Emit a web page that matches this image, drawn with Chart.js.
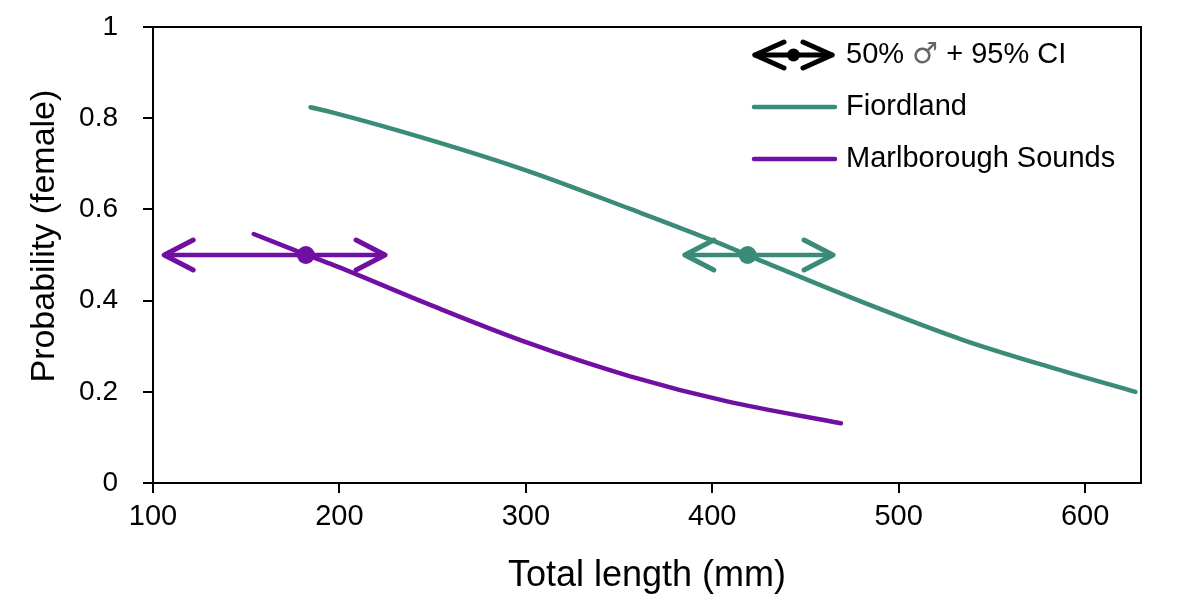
<!DOCTYPE html>
<html>
<head>
<meta charset="utf-8">
<script src="https://cdn.jsdelivr.net/npm/chart.js@4/dist/chart.umd.min.js"></script>
<style>
  body { margin: 0; background: #fff; }
</style>
</head>
<body>
<canvas id="chart" width="1200" height="599"></canvas>
<script>
// values
const fiordLen = [184.5, 195, 249, 302, 356, 400, 427, 481, 535, 588, 627];
const fiordProb = [0.824, 0.814, 0.752, 0.683, 0.601, 0.532, 0.486, 0.396, 0.313, 0.246, 0.2];
const marlLen = [154, 182, 195, 249, 302, 356, 408, 469];
const marlProb = [0.546, 0.501, 0.481, 0.39, 0.306, 0.234, 0.179, 0.131];

// 50% point with 95% CI
const fiordMid = [419, 0.5];
const fiordCI = [385.3, 464.8];
const marlMid = [182, 0.5];
const marlCI = [106, 224.5];

const xTicks = [100, 200, 300, 400, 500, 600];
const yTicks = [0, 0.2, 0.4, 0.6, 0.8, 1];

const TEAL = "#3a8c78";
const PURPLE = "#7010a2";
const FONT = "'Liberation Sans', Arial, sans-serif";

const pts = (xs, ys) => xs.map((x, i) => ({ x, y: ys[i] }));

function curve(label, xs, ys, color) {
  return {
    label,
    data: pts(xs, ys),
    showLine: true,
    borderColor: color,
    borderWidth: 4.5,
    borderCapStyle: "round",
    tension: 0.4,
    cubicInterpolationMode: "monotone",
    pointRadius: 0,
  };
}

function ciLine(ci, y, color) {
  return {
    label: "ci",
    data: ci.map((x) => ({ x, y })),
    showLine: true,
    borderColor: color,
    borderWidth: 4.5,
    pointRadius: 0,
    arrows: true,
  };
}

function midDot(mid, color) {
  return {
    label: "mid",
    data: [{ x: mid[0], y: mid[1] }],
    pointRadius: 9,
    pointBorderWidth: 0,
    pointBackgroundColor: color,
  };
}

function chevron(ctx, x, y, dir, dx, dy) {
  ctx.beginPath();
  ctx.moveTo(x - dir * dx, y - dy);
  ctx.lineTo(x, y);
  ctx.lineTo(x - dir * dx, y + dy);
  ctx.stroke();
}

// open arrow heads at the CI ends, placed on the points the scales give
const arrowHeads = {
  id: "arrowHeads",
  afterDatasetsDraw(chart) {
    const ctx = chart.ctx;
    ctx.save();
    ctx.lineWidth = 5;
    ctx.lineCap = "round";
    ctx.lineJoin = "round";
    chart.data.datasets.forEach((ds, i) => {
      if (!ds.arrows) return;
      const els = chart.getDatasetMeta(i).data;
      ctx.strokeStyle = ds.borderColor;
      chevron(ctx, els[0].x, els[0].y, -1, 29, 15);
      chevron(ctx, els[1].x, els[1].y, 1, 29, 15);
    });
    ctx.restore();
  },
};

// legend drawn inside the plot box, plus the top/right frame
const overlay = {
  id: "overlay",
  afterDraw(chart) {
    const { ctx, chartArea: a } = chart;
    ctx.save();
    ctx.strokeStyle = "#000";
    ctx.lineWidth = 2;
    ctx.beginPath();
    ctx.moveTo(a.left, a.top);
    ctx.lineTo(a.right, a.top);
    ctx.lineTo(a.right, a.bottom);
    ctx.stroke();

    const x0 = a.right - 386, x1 = a.right - 309, tx = a.right - 295;
    const rows = [a.top + 28, a.top + 80, a.top + 132];
    ctx.lineCap = "round";
    ctx.lineJoin = "round";

    // arrow symbol
    ctx.strokeStyle = "#000";
    ctx.lineWidth = 5;
    ctx.beginPath();
    ctx.moveTo(x0, rows[0]); ctx.lineTo(x1, rows[0]);
    ctx.stroke();
    chevron(ctx, x0, rows[0], -1, 29, 13);
    chevron(ctx, x1, rows[0], 1, 29, 13);
    ctx.fillStyle = "#000";
    ctx.beginPath();
    ctx.arc((x0 + x1) / 2, rows[0], 6.5, 0, Math.PI * 2);
    ctx.fill();

    [[TEAL, rows[1]], [PURPLE, rows[2]]].forEach(([c, y]) => {
      ctx.strokeStyle = c;
      ctx.lineWidth = 4.5;
      ctx.beginPath();
      ctx.moveTo(x0 - 1, y); ctx.lineTo(x1 + 3, y);
      ctx.stroke();
    });

    ctx.textBaseline = "middle";
    ctx.textAlign = "left";
    let x = tx;
    const parts = [
      ["50% ", "#000", "29px " + FONT],
      ["\u2642", "#666", "29px 'DejaVu Sans', sans-serif"],
      [" + 95% CI", "#000", "29px " + FONT],
    ];
    parts.forEach(([t, c, f]) => {
      ctx.font = f;
      ctx.fillStyle = c;
      ctx.fillText(t, x, rows[0]);
      x += ctx.measureText(t).width;
    });
    ctx.font = "29px " + FONT;
    ctx.fillStyle = "#000";
    ctx.fillText("Fiordland", tx, rows[1]);
    ctx.fillText("Marlborough Sounds", tx, rows[2]);
    ctx.restore();
  },
};

const axisGrid = {
  display: true,
  drawOnChartArea: false,
  drawTicks: true,
  tickLength: 10,
  color: "#000",
  lineWidth: 2,
};

new Chart(document.getElementById("chart"), {
  type: "scatter",
  data: {
    datasets: [
      midDot(fiordMid, TEAL),
      midDot(marlMid, PURPLE),
      ciLine(fiordCI, fiordMid[1], TEAL),
      ciLine(marlCI, marlMid[1], PURPLE),
      curve("Fiordland", fiordLen, fiordProb, TEAL),
      curve("Marlborough Sounds", marlLen, marlProb, PURPLE),
    ],
  },
  options: {
    responsive: false,
    animation: false,
    layout: { padding: { top: 27, right: 59, left: 0, bottom: 0 } },
    plugins: { legend: { display: false }, tooltip: { enabled: false } },
    scales: {
      x: {
        type: "linear",
        min: 100,
        max: 630,
        afterBuildTicks: (s) => { s.ticks = xTicks.map((v) => ({ value: v })); },
        afterFit: (s) => {
          s.height = 116;
          s.paddingLeft = 0;
          s.paddingRight = 0;
        },
        ticks: {
          color: "#000",
          font: { family: FONT, size: 29 },
          padding: 7,
          callback: (v) => String(v),
        },
        grid: axisGrid,
        border: { display: true, color: "#000", width: 2 },
        title: {
          display: true,
          text: "Total length (mm)",
          color: "#000",
          font: { family: FONT, size: 36 },
          padding: { top: 0, bottom: 1 },
        },
      },
      y: {
        type: "linear",
        min: 0,
        max: 1,
        afterBuildTicks: (s) => { s.ticks = yTicks.map((v) => ({ value: v })); },
        afterFit: (s) => {
          s.width = 153;
          s.paddingTop = 0;
          s.paddingBottom = 0;
        },
        ticks: {
          color: "#000",
          font: { family: FONT, size: 28 },
          padding: 25,
          callback: (v) => String(v),
        },
        grid: axisGrid,
        border: { display: true, color: "#000", width: 2 },
        title: {
          display: true,
          text: "    Probability (female)",
          color: "#000",
          font: { family: FONT, size: 34 },
          padding: { top: 24, bottom: 0 },
        },
      },
    },
  },
  plugins: [arrowHeads, overlay],
});
</script>
</body>
</html>
